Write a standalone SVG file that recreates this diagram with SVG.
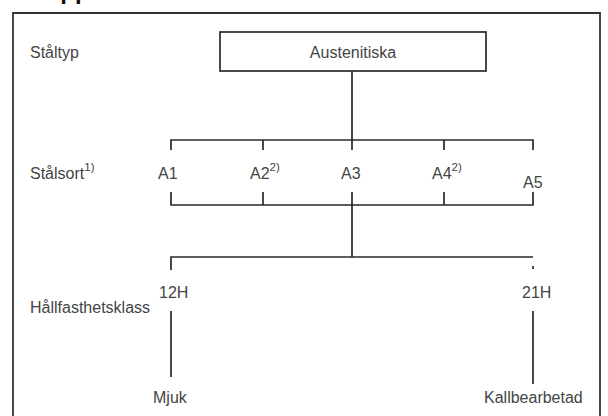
<svg xmlns="http://www.w3.org/2000/svg" width="608" height="416" viewBox="0 0 608 416">
<style>
.ln{stroke:#2a2a2a;stroke-width:1.7;fill:none}
.fr{stroke:#333;stroke-width:1.8;fill:none}
.t{font-family:"Liberation Sans",Arial,sans-serif;font-size:16px;fill:#444}
.sup{font-family:"Liberation Sans",Arial,sans-serif;font-size:11.5px;fill:#444}
.title{font-family:"Liberation Sans",Arial,sans-serif;font-size:24px;font-weight:bold;fill:#111}
</style>
<rect width="608" height="416" fill="#fff"/>
<text class="title" x="43" y="-1.5">Upp</text>
<path class="fr" d="M13,416 V13 H600 V416"/>
<g id="labels">
<text class="t" x="30" y="58">Ståltyp</text>
<text class="t" x="30" y="179">Stålsort<tspan class="sup" dy="-8">1)</tspan></text>
<text class="t" x="30" y="313">Hållfasthetsklass</text>
</g>
<g id="austenitiska">
<rect class="ln" x="220" y="32" width="266" height="39"/>
<text class="t" x="353" y="58" text-anchor="middle">Austenitiska</text>
</g>
<g id="a1"><text class="t" x="158" y="179">A1</text></g>
<g id="a2"><text class="t" x="250" y="179">A2<tspan class="sup" dy="-8">2)</tspan></text></g>
<g id="a3"><text class="t" x="341" y="179">A3</text></g>
<g id="a4"><text class="t" x="432" y="179">A4<tspan class="sup" dy="-8">2)</tspan></text></g>
<g id="a5"><text class="t" x="523" y="188">A5</text></g>
<g id="h12"><text class="t" x="159" y="298">12H</text></g>
<g id="h21"><text class="t" x="522" y="298">21H</text></g>
<g id="mjuk"><text class="t" x="153" y="403">Mjuk</text></g>
<g id="kallbearbetad"><text class="t" x="484" y="403">Kallbearbetad</text></g>
<g id="connectors">
<path class="ln" d="M352,71 V140 M171,150 V140 H533 V150 M263,140 V150 M352,140 V150 M444,140 V150"/>
<path class="ln" d="M171,192 V205 H533 V192 M263,192 V205 M352,192 V205 M444,192 V205 M352,205 V257"/>
<path class="ln" d="M171,270 V257 H533 M533,266 V269"/>
<path class="ln" d="M171,311 V377 M533,311 V384"/>
</g>
</svg>
